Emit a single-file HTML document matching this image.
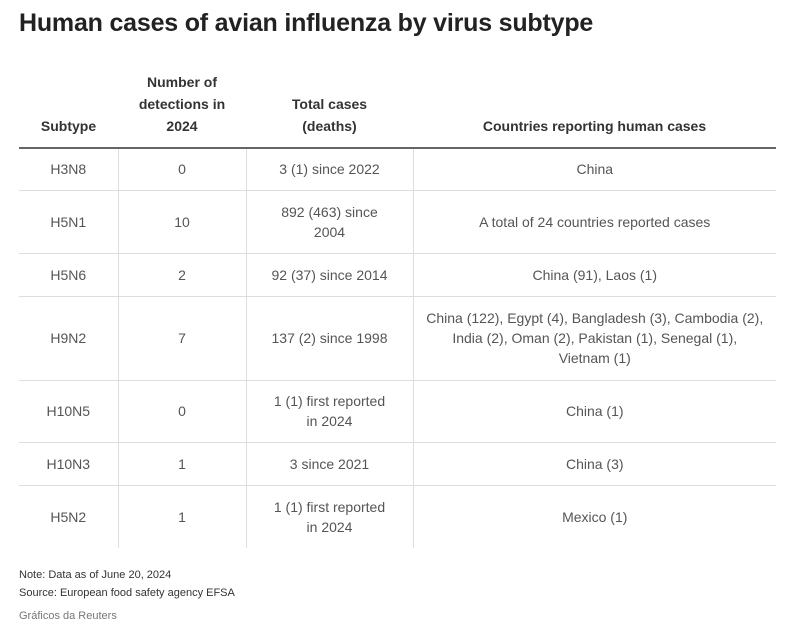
<!DOCTYPE html>
<html><head><meta charset="utf-8"><style>
body{margin:0;width:800px;height:636px;background:#fff;font-family:"Liberation Sans",sans-serif;color:#333;position:relative;overflow:hidden}
h1{position:absolute;left:19px;top:9px;margin:0;font-size:25px;font-weight:bold;color:#222;letter-spacing:-0.2px}
table{position:absolute;left:19px;top:70px;border-collapse:collapse;width:757px;table-layout:fixed}
th{font-size:14px;font-weight:bold;color:#333;vertical-align:bottom;padding:0 4px 10px;line-height:22px;border-bottom:2px solid #666;text-align:center}
td{font-size:14px;color:#555;text-align:center;border-right:1px solid #ddd;border-bottom:1px solid #ddd;line-height:20px;padding:0 2px}
td:last-child{border-right:none}
tr:last-child td{border-bottom:none}
.foot{position:absolute;left:19px;font-size:11px;color:#333}
</style></head><body>
<h1>Human cases of avian influenza by virus subtype</h1>
<table>
<colgroup><col style="width:99px"><col style="width:128px"><col style="width:167px"><col style="width:363px"></colgroup>
<tr style="height:78px"><th>Subtype</th><th>Number of detections in 2024</th><th>Total cases<br>(deaths)</th><th>Countries reporting human cases</th></tr>
<tr style="height:42px"><td>H3N8</td><td>0</td><td>3 (1) since 2022</td><td>China</td></tr>
<tr style="height:63px"><td>H5N1</td><td>10</td><td>892 (463) since<br>2004</td><td>A total of 24 countries reported cases</td></tr>
<tr style="height:43px"><td>H5N6</td><td>2</td><td>92 (37) since 2014</td><td>China (91), Laos (1)</td></tr>
<tr style="height:84px"><td>H9N2</td><td>7</td><td>137 (2) since 1998</td><td style="white-space:nowrap">China (122), Egypt (4), Bangladesh (3), Cambodia (2),<br>India (2), Oman (2), Pakistan (1), Senegal (1),<br>Vietnam (1)</td></tr>
<tr style="height:62px"><td>H10N5</td><td>0</td><td>1 (1) first reported<br>in 2024</td><td>China (1)</td></tr>
<tr style="height:43px"><td>H10N3</td><td>1</td><td>3 since 2021</td><td>China (3)</td></tr>
<tr style="height:63px"><td>H5N2</td><td>1</td><td>1 (1) first reported<br>in 2024</td><td>Mexico (1)</td></tr>
</table>
<div class="foot" style="top:569px">Note: Data as of June 20, 2024</div>
<div class="foot" style="top:587px">Source: European food safety agency EFSA</div>
<div class="foot" style="top:610px;color:#777">Gráficos da Reuters</div>
</body></html>
